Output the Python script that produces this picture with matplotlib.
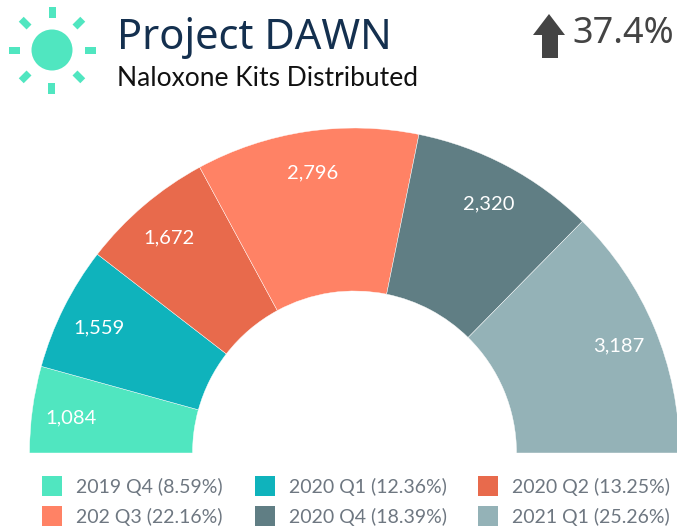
import numpy as np
import matplotlib
matplotlib.use("Agg")
from matplotlib import pyplot as plt
from matplotlib.patches import Circle, Rectangle, Polygon

periods = ["2019 Q4", "2020 Q1", "2020 Q2", "202 Q3", "2020 Q4", "2021 Q1"]
kits = [1084, 1559, 1672, 2796, 2320, 3187]
shares = ["8.59%", "12.36%", "13.25%", "22.16%", "18.39%", "25.26%"]
colors = ["#50E6C0", "#0FB3BC", "#E86A4C", "#FF8265", "#607E84", "#94B2B7"]

plt.rcParams["font.family"] = "Lato"

W, H = 677, 528
fig = plt.figure(figsize=(W / 100, H / 100), dpi=100)
ax = fig.add_axes([0, 0, 1, 1])


def py(y):  # y measured from the top of the picture
    return H - y


# half donut: each slice takes its share of a half turn
fracs = np.array(kits) / (2 * sum(kits))
wedges, texts = ax.pie(fracs, colors=colors, normalize=False, startangle=180, counterclock=False,
                       center=(354.5, py(453)), radius=325, labels=[f"{k:,}" for k in kits],
                       labeldistance=0.88, wedgeprops=dict(width=163, edgecolor="white", linewidth=0.3),
                       textprops=dict(color="white", fontsize=14.5))
for t in texts:
    t.set_ha("center")
    t.set_va("center")
    lx, ly = t.get_position()
    t.set_position((lx, ly - 3))  # sits a bit lower than the radial midpoint

ax.set_xlim(0, W)
ax.set_ylim(0, H)
ax.set_aspect("equal")
ax.axis("off")

# sun logo
sun = "#50E6C0"
ax.add_patch(Circle((52, py(50)), 20.5, color=sun, lw=0))
for a in range(0, 360, 45):
    t = np.radians(a)
    tr = matplotlib.transforms.Affine2D().rotate_deg(a).translate(52 + 38 * np.cos(t), py(50) + 38 * np.sin(t))
    ax.add_patch(Rectangle((-5.5, -3.5), 11, 7, color=sun, lw=0, transform=tr + ax.transData))

# titles
ax.text(117, py(38), "Project DAWN", fontsize=30, color="#14304F", family="Noto Sans", va="center", ha="left")
ax.text(117, py(78), "Naloxone Kits Distributed", fontsize=19, color="#111111", va="center", ha="left")

# change indicator
ax.add_patch(Polygon([(549, py(14)), (533, py(35)), (542, py(35)), (542, py(58)), (558, py(58)), (558, py(35)), (565, py(35))],
                     closed=True, color="#444444", lw=0))
ax.text(572, py(34), "37.4%", fontsize=26, color="#444444", family="Noto Sans", va="center", ha="left")

# legend
box_x = [42, 255, 478]
box_y = [476, 506]
for i, (p, s, c) in enumerate(zip(periods, shares, colors)):
    x = box_x[i % 3]
    y = box_y[i // 3]
    ax.add_patch(Rectangle((x, py(y + 20)), 20, 20, color=c, lw=0))
    ax.text(x + 34, py(y + 10.5), f"{p} ({s})", fontsize=14, color="#6E7781", va="center", ha="left")

fig.savefig("out.png", dpi=100)
